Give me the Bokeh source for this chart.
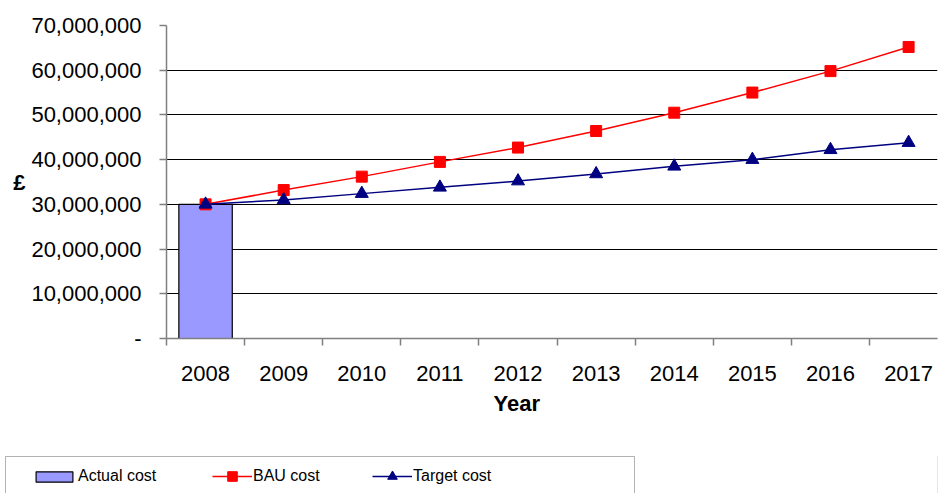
from bokeh.plotting import figure
from bokeh.layouts import column
from bokeh.models import (Range1d, FixedTicker, NumeralTickFormatter, Legend,
                          LegendItem, BoxAnnotation, Title)
from bokeh.embed import file_html
from bokeh.resources import INLINE

# ---- data ----
years = [2008, 2009, 2010, 2011, 2012, 2013, 2014, 2015, 2016, 2017]
actual_years = [2008]
actual_cost = [30000000]
bau_cost = [30000000, 33200000, 36200000, 39500000, 42700000, 46400000,
            50500000, 55000000, 59800000, 65200000]
target_cost = [30000000, 31000000, 32400000, 33800000, 35200000, 36800000,
               38500000, 40000000, 42200000, 43800000]
y_ticks = [0, 10000000, 20000000, 30000000, 40000000, 50000000, 60000000, 70000000]
series_labels = ["Actual cost", "BAU cost", "Target cost"]
x_title = "Year"
y_title = "£"

FONT = "Liberation Sans"
BAR_FILL = "#9999FF"
BAU_COLOR = "#FF0000"
TGT_COLOR = "#000080"

p = figure(width=938, height=455, output_backend="svg", toolbar_location=None,
           x_range=Range1d(years[0] - 0.5, 2017.37), y_range=Range1d(0, 70000000),
           min_border_left=166, min_border_right=1, min_border_top=25,
           min_border_bottom=117)
p.outline_line_color = None
p.background_fill_color = "white"
p.border_fill_color = "white"
p.frame_align = False

# grid
p.xgrid.grid_line_color = None
p.ygrid.ticker = FixedTicker(ticks=y_ticks)
p.ygrid.grid_line_color = "#000000"
p.ygrid.grid_line_width = 1

# x axis: labels at category centres, tick marks at category boundaries
boundaries = [y - 0.5 for y in years] + [years[-1] + 0.5]
xa = p.xaxis[0]
xa.ticker = FixedTicker(ticks=years, minor_ticks=boundaries)
xa.major_tick_line_color = None
xa.major_tick_out = 0
xa.major_tick_in = 0
xa.minor_tick_out = 7
xa.minor_tick_in = 0
xa.minor_tick_line_color = "#808080"
xa.minor_tick_line_width = 1.5
xa.axis_line_color = "#808080"
xa.axis_line_width = 1.5
xa.major_label_standoff = 20
xa.major_label_text_font = FONT
xa.major_label_text_font_size = "22px"
xa.major_label_text_color = "black"

# x-axis title, placed left of centre as in the original
xt = Title(text=x_title, align="left", offset=327, text_font=FONT,
           text_font_size="22px", text_font_style="bold", text_color="black",
           standoff=10)
p.add_layout(xt, "below")

# y axis
ya = p.yaxis[0]
ya.ticker = FixedTicker(ticks=y_ticks)
ya.formatter = NumeralTickFormatter(format="0,0")
ya.major_label_overrides = {0: "-"}
ya.minor_tick_line_color = None
ya.major_tick_out = 7
ya.major_tick_in = 0
ya.major_tick_line_color = "#808080"
ya.major_tick_line_width = 1.5
ya.axis_line_color = "#808080"
ya.axis_line_width = 1.5
ya.major_label_standoff = 18
ya.major_label_text_font = FONT
ya.major_label_text_font_size = "22px"
ya.major_label_text_color = "black"
ya.axis_label = y_title
ya.axis_label_orientation = "horizontal"
ya.axis_label_text_font = FONT
ya.axis_label_text_font_size = "22px"
ya.axis_label_text_font_style = "bold"
ya.axis_label_text_color = "black"
ya.axis_label_standoff = 3

# glyphs
p.vbar(x=actual_years, top=actual_cost, width=0.684,
       fill_color=BAR_FILL, line_color="black", line_width=1.2)
p.line(years, bau_cost, line_color=BAU_COLOR, line_width=1.5)
p.scatter(years, bau_cost, marker="square", size=11,
          fill_color=BAU_COLOR, line_color=BAU_COLOR)
p.line(years, target_cost, line_color=TGT_COLOR, line_width=1.5)
p.scatter(years, target_cost, marker="triangle", size=13,
          fill_color=TGT_COLOR, line_color=TGT_COLOR)

# ---- legend strip (separate small figure so it can sit below the axis) ----
p2 = figure(width=938, height=38, output_backend="svg", toolbar_location=None,
            x_range=Range1d(0, 938), y_range=Range1d(0, 38), min_border=0,
            x_axis_location=None, y_axis_location=None)
p2.frame_align = False
p2.grid.visible = False
p2.outline_line_color = None
p2.background_fill_color = "white"
p2.border_fill_color = "white"

box = BoxAnnotation(left=5, right=634, top=37, bottom=-10, fill_alpha=0,
                    line_color="black", line_width=1)
p2.add_layout(box)

# legend proxies: same series, lying outside this strip's visible ranges
leg_bar = p2.vbar(x=actual_years, top=actual_cost, width=1, fill_color=BAR_FILL,
                  line_color="black", line_width=1.2)
leg_bau_l = p2.line(years, bau_cost, line_color=BAU_COLOR, line_width=1.5)
leg_bau_s = p2.scatter(years, bau_cost, marker="square", size=10,
                       fill_color=BAU_COLOR, line_color=BAU_COLOR)
leg_tgt_l = p2.line(years, target_cost, line_color=TGT_COLOR, line_width=1.5)
leg_tgt_s = p2.scatter(years, target_cost, marker="triangle", size=12,
                       fill_color=TGT_COLOR, line_color=TGT_COLOR)

# (label, renderers, left, bottom, glyph width, glyph height)
entries = [
    (series_labels[0], [leg_bar], 31, 7, 46, 13),
    (series_labels[1], [leg_bau_l, leg_bau_s], 212, 5, 40, 24),
    (series_labels[2], [leg_tgt_l, leg_tgt_s], 372, 5, 40, 24),
]
for label, rends, lx, ly, gw, gh in entries:
    lg = Legend(items=[LegendItem(label=label, renderers=rends)],
                orientation="horizontal", location=(lx, ly))
    lg.border_line_color = None
    lg.background_fill_alpha = 0
    lg.padding = 0
    lg.margin = 0
    lg.spacing = 0
    lg.glyph_width = gw
    lg.glyph_height = gh
    lg.label_height = 20
    lg.label_standoff = 1
    lg.label_text_font = FONT
    lg.label_text_font_size = "16px"
    lg.label_text_color = "black"
    p2.add_layout(lg, "center")

layout = column(p, p2, spacing=0)
open("out.html", "w").write(file_html(layout, INLINE))
